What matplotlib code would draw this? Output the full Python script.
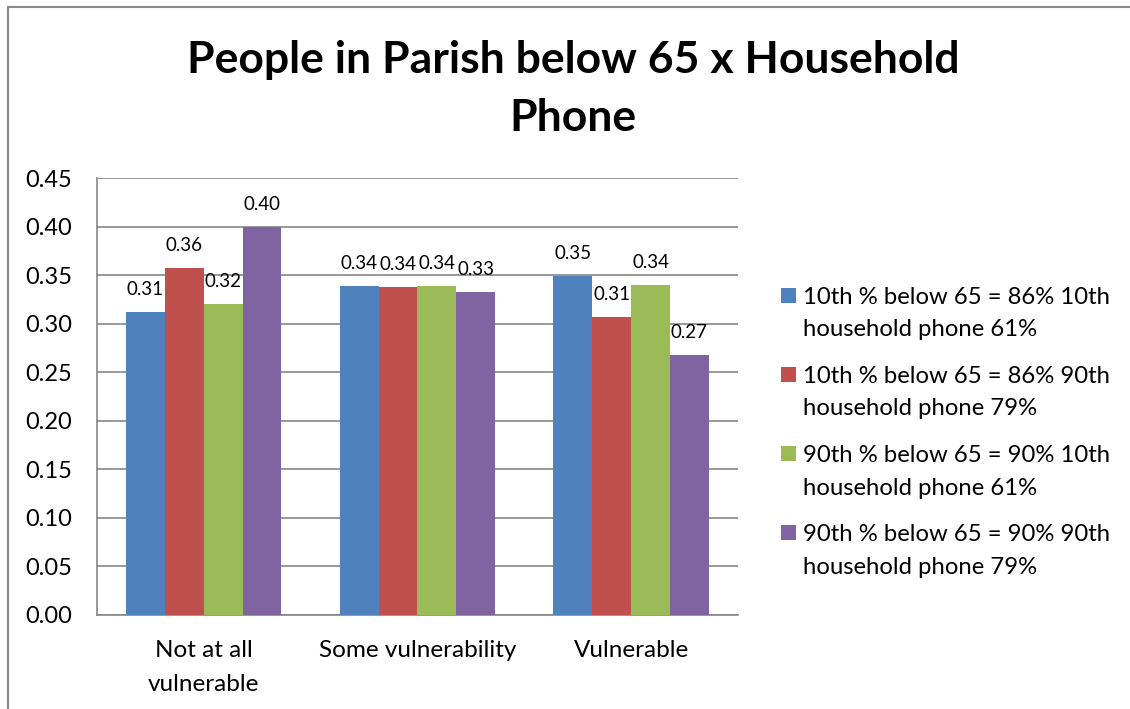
import matplotlib.pyplot as plt
from matplotlib.patches import Rectangle
from matplotlib.lines import Line2D
import numpy as np

plt.rcParams['font.family'] = ['Lato', 'DejaVu Sans']

categories = ['Not at all\nvulnerable', 'Some vulnerability', 'Vulnerable']
series_names = [
    '10th % below 65 = 86% 10th\nhousehold phone 61%',
    '10th % below 65 = 86% 90th\nhousehold phone 79%',
    '90th % below 65 = 90% 10th\nhousehold phone 61%',
    '90th % below 65 = 90% 90th\nhousehold phone 79%',
]
values = [
    [0.312, 0.339, 0.349],
    [0.357, 0.338, 0.307],
    [0.320, 0.339, 0.340],
    [0.400, 0.333, 0.268],
]
colors = ['#4F81BD', '#C0504D', '#9BBB59', '#8064A2']

W, H = 1130, 709
fig = plt.figure(figsize=(W / 100, H / 100), dpi=100)
ax = fig.add_axes([0.0858, 0.1326, 0.5673, 0.6163])

x = np.arange(len(categories))
w = 1 / 5.5
for j, (name, vals) in enumerate(zip(series_names, values)):
    pos = x + (j - 1.5) * w
    ax.bar(pos, vals, width=w, color=colors[j], label=name, zorder=3)
    for px, v in zip(pos, vals):
        ax.annotate(f"{v:.2f}", (px, v), xytext=(0, 10), textcoords='offset points',
                    ha='center', va='bottom', fontsize=13.5, color='#000000', zorder=4)

ax.set_xlim(-0.5, 2.5)
ax.set_ylim(0, 0.45)
ax.set_yticks(np.arange(0, 0.451, 0.05))
ax.set_yticklabels([f"{t:.2f}" for t in np.arange(0, 0.451, 0.05)])
ax.set_xticks(x)
ax.set_xticklabels(categories, linespacing=1.75)
ax.tick_params(axis='y', length=0, pad=18, labelsize=17)
ax.tick_params(axis='x', length=0, pad=18, labelsize=17.5)
ax.yaxis.grid(True, color='#868686', linewidth=1.2, zorder=0)
for s in ['top', 'right']:
    ax.spines[s].set_visible(False)
for s in ['left', 'bottom']:
    ax.spines[s].set_color('#868686')
    ax.spines[s].set_linewidth(1.2)

fig.text(0.507, 0.874, 'People in Parish below 65 x Household\nPhone', ha='center', va='center',
         fontsize=32, fontweight='bold', linespacing=1.54)

# legend, drawn by hand so the swatch sits on the first line of each entry
for i, (name, c) in enumerate(zip(series_names, colors)):
    y0 = 295 + 79.3 * i
    fig.add_artist(Rectangle((781 / W, 1 - (y0 + 7.5) / H), 15 / W, 15 / H,
                             facecolor=c, edgecolor='none', transform=fig.transFigure))
    for k, line in enumerate(name.split('\n')):
        fig.text(803 / W, 1 - (y0 + 32.5 * k) / H, line, ha='left', va='center_baseline',
                 fontsize=17.2)

# chart border (cropped)
fig.add_artist(Line2D([0.0071, 1.0], [0.990, 0.990], color='#888888', linewidth=1.5))
fig.add_artist(Line2D([0.0071, 0.0071], [0.0, 0.990], color='#888888', linewidth=1.5))

fig.savefig('out.png', dpi=100)
